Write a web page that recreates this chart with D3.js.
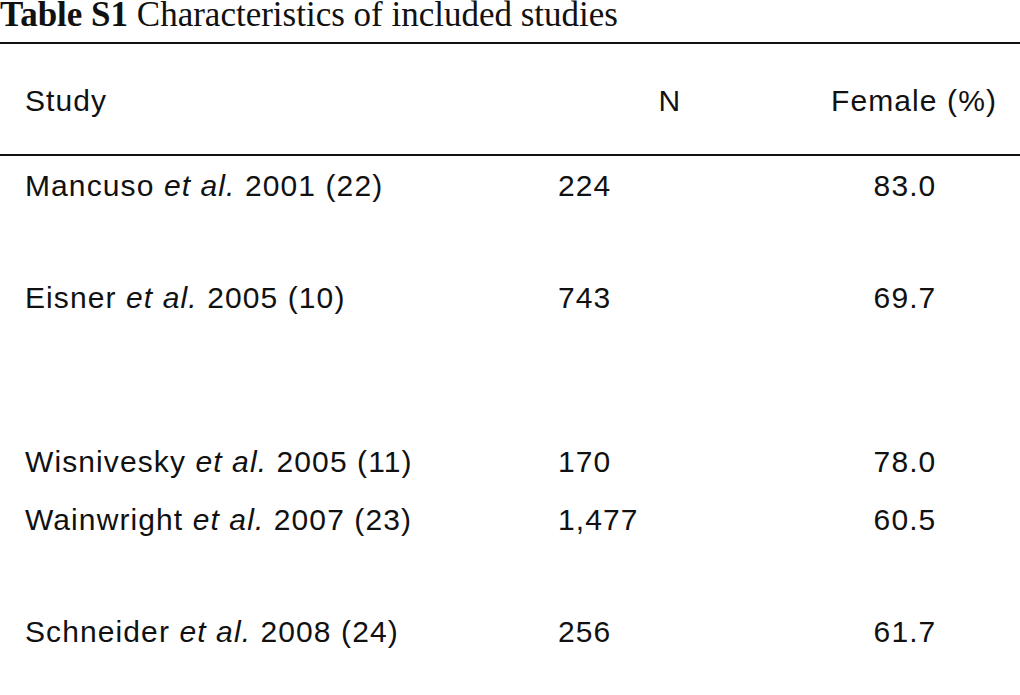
<!DOCTYPE html>
<html><head><meta charset="utf-8">
<script src="https://cdn.jsdelivr.net/npm/d3@7"></script>
<style>body{margin:0;background:#fff}</style>
</head><body>
<svg id="c" width="1020" height="695"></svg>
<script>
const authors = ["Mancuso","Eisner","Wisnivesky","Wainwright","Schneider"];
const years = ["2001 (22)","2005 (10)","2005 (11)","2007 (23)","2008 (24)"];
const nValues = ["224","743","170","1,477","256"];
const femalePct = ["83.0","69.7","78.0","60.5","61.7"];
const rowY = [185,297,461,519,631];
const headers = ["Study","N","Female (%)"];

const svg = d3.select("#c");
const sans = "'Liberation Sans', Arial, sans-serif";
const FS = 30, LS = 1.1;
const t = svg.append("text").attr("x",0).attr("y",26)
  .attr("font-family","'Liberation Serif', serif").attr("font-size",35).attr("fill","#111");
t.append("tspan").attr("font-weight","bold").text("Table S1");
t.append("tspan").text(" Characteristics of included studies");

svg.append("line").attr("x1",0).attr("x2",1020).attr("y1",43).attr("y2",43).attr("stroke","#111").attr("stroke-width",2);
svg.append("line").attr("x1",0).attr("x2",1020).attr("y1",155).attr("y2",155).attr("stroke","#111").attr("stroke-width",2);

const hx = [[25,"start"],[670,"middle"],[997,"end"]];
headers.forEach((h,i)=>svg.append("text").attr("x",hx[i][0]).attr("y",111)
  .attr("text-anchor",hx[i][1]).attr("font-family",sans).attr("font-size",FS).attr("letter-spacing",LS).attr("fill","#111").text(h));

const y = d3.scaleOrdinal().domain(authors).range(rowY);
authors.forEach((a,i)=>{
  const tt = svg.append("text").attr("x",25).attr("y",y(a)+11).attr("font-family",sans).attr("font-size",FS).attr("letter-spacing",LS).attr("fill","#111");
  tt.append("tspan").text(a+" ");
  tt.append("tspan").attr("font-style","italic").text("et al.");
  tt.append("tspan").text(" "+years[i]);
  svg.append("text").attr("x",558).attr("y",y(a)+11).attr("font-family",sans).attr("font-size",FS).attr("letter-spacing",LS).attr("fill","#111").text(nValues[i]);
  svg.append("text").attr("x",905).attr("y",y(a)+11).attr("text-anchor","middle").attr("font-family",sans).attr("font-size",FS).attr("letter-spacing",LS).attr("fill","#111").text(femalePct[i]);
});
</script>
</body></html>
